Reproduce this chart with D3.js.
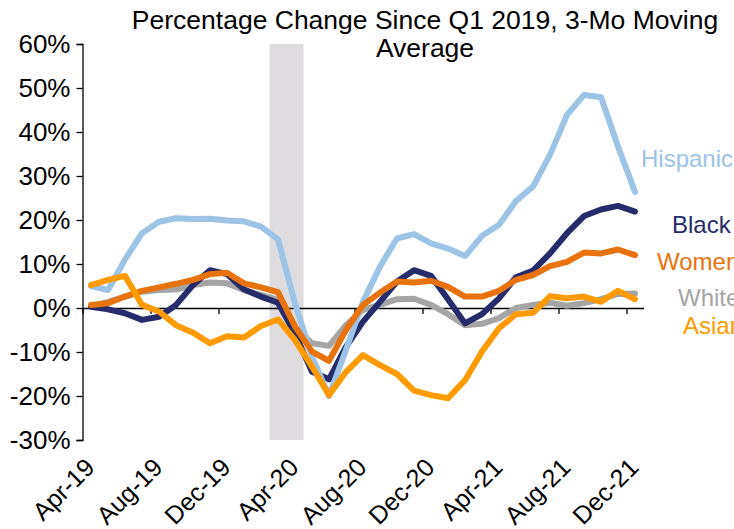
<!DOCTYPE html>
<html>
<head>
<meta charset="utf-8">
<script src="https://cdn.jsdelivr.net/npm/d3@7"></script>
<style>
  html, body { margin: 0; padding: 0; background: #ffffff; }
  svg { display: block; font-family: "Liberation Sans", Arial, sans-serif; }
</style>
</head>
<body>
<svg id="chart" width="734" height="529"></svg>
<script>
// ---------------- DATA ----------------
const months = ["Apr-19","May-19","Jun-19","Jul-19","Aug-19","Sep-19","Oct-19","Nov-19","Dec-19",
  "Jan-20","Feb-20","Mar-20","Apr-20","May-20","Jun-20","Jul-20","Aug-20","Sep-20","Oct-20",
  "Nov-20","Dec-20","Jan-21","Feb-21","Mar-21","Apr-21","May-21","Jun-21","Jul-21","Aug-21",
  "Sep-21","Oct-21","Nov-21","Dec-21"];
const tickLabels = ["Apr-19","Aug-19","Dec-19","Apr-20","Aug-20","Dec-20","Apr-21","Aug-21","Dec-21"];
const yTicks = [-0.3, -0.2, -0.1, 0, 0.1, 0.2, 0.3, 0.4, 0.5, 0.6];
const recession = ["Mar-20", "Apr-20"];
const titleLines = ["Percentage Change Since Q1 2019, 3-Mo Moving", "Average"];

// percent change, 3-mo moving average
const hispanic = [5.0, 4.1, 11.0, 17.0, 19.6, 20.4, 20.2, 20.3, 19.9, 19.7, 18.5, 15.6, 1.0, -11.0, -20.0,
  -9.5, 1.4, 9.4, 15.8, 16.8, 14.7, 13.5, 11.8, 16.4, 18.9, 24.3, 27.6, 34.8, 43.9, 48.4, 47.9, 36.7, 26.4];
const black = [0.3, -0.3, -1.2, -2.7, -2.0, 0.7, 5.2, 8.6, 7.7, 4.2, 2.6, 1.2, -5.8, -14.5, -16.2,
  -8.8, -3.1, 1.4, 6.0, 8.6, 7.3, 2.0, -3.5, -1.4, 2.2, 7.0, 8.5, 12.4, 17.0, 20.9, 22.4, 23.2, 21.9];
const women = [0.7, 1.1, 2.6, 3.9, 4.7, 5.5, 6.4, 7.7, 8.0, 5.6, 4.7, 3.6, -4.2, -9.9, -12.0,
  -5.0, 0.7, 3.5, 6.0, 5.8, 6.2, 4.8, 2.6, 2.6, 3.9, 6.4, 7.5, 9.5, 10.5, 12.6, 12.4, 13.3, 12.0];
const white = [0.3, 1.4, 2.6, 3.7, 4.1, 4.2, 5.2, 5.8, 5.6, 4.1, 3.0, 1.8, -4.5, -8.0, -8.6,
  -3.9, -0.4, 0.7, 2.0, 2.1, 0.7, -1.4, -3.9, -3.6, -2.3, 0.0, 0.7, 1.2, 0.5, 1.1, 2.0, 3.2, 3.3];
const asian = [5.2, 6.4, 7.3, 0.7, -0.8, -3.9, -5.6, -8.0, -6.4, -6.7, -4.1, -2.6, -7.3, -13.3, -19.8,
  -14.5, -10.7, -13.0, -15.0, -18.8, -19.8, -20.5, -16.4, -9.9, -4.6, -1.4, -1.1, 2.7, 2.2, 2.6, 1.4, 3.9, 2.0];

const seriesNames = ["White", "Black", "Hispanic", "Women", "Asian"];
const seriesValues = [white, black, hispanic, women, asian];
const seriesColors = ["#A5A5A5", "#262B6C", "#9DC3E6", "#E8720C", "#FF9A00"];
const labelNames = ["Hispanic", "Black", "Women", "White", "Asian"];

// ---------------- LAYOUT ----------------
const svg = d3.select("#chart");
const plot = { left: 82.5, right: 643.5, top: 44, bottom: 440 };

const x = d3.scaleBand().domain(months).range([plot.left, plot.right]).padding(0);
const xc = m => x(m) + x.bandwidth() / 2;
const y = d3.scaleLinear().domain([-0.3, 0.6]).range([plot.bottom, plot.top]);

// recession shading
svg.append("rect")
  .attr("x", x(recession[0]))
  .attr("y", plot.top)
  .attr("width", x(recession[1]) + x.bandwidth() - x(recession[0]))
  .attr("height", plot.bottom - plot.top)
  .attr("fill", "#DEDCDE");

// y axis
const yAxis = d3.axisLeft(y).tickValues(yTicks).tickSize(6).tickSizeOuter(6).tickPadding(6)
  .tickFormat(d => Math.round(d * 100) + "%");
const yg = svg.append("g").attr("transform", `translate(${plot.left},0)`).call(yAxis);
yg.select(".domain").attr("stroke", "#000").attr("stroke-width", 1.3);
yg.selectAll(".tick line").attr("stroke", "#000").attr("stroke-width", 1.3);
yg.selectAll(".tick text")
  .attr("font-size", 26).attr("fill", "#000")
  .attr("font-family", "Liberation Sans, Arial, sans-serif");

// x axis at zero
const xLin = d3.scaleLinear().domain([0, months.length]).range([plot.left, plot.right]);
const xAxis = d3.axisBottom(xLin)
  .tickValues(d3.range(0, months.length, 4))
  .tickFormat("").tickSize(6).tickSizeOuter(0);
const xg = svg.append("g").attr("transform", `translate(0,${y(0)})`).call(xAxis);
xg.select(".domain").attr("stroke", "#000").attr("stroke-width", 1.3);
xg.selectAll(".tick line").attr("stroke", "#000").attr("stroke-width", 1.3);

// rotated tick labels
svg.append("g").selectAll("text")
  .data(tickLabels).join("text")
  .attr("transform", d => `translate(${xc(d) + 5},${plot.bottom + 29}) rotate(-45)`)
  .attr("text-anchor", "end")
  .attr("font-size", 25)
  .attr("fill", "#000")
  .text(d => d);

// lines
const line = d3.line().x((d, i) => xc(months[i])).y(d => y(d / 100));
svg.append("g").selectAll("path")
  .data(seriesValues).join("path")
  .attr("d", d => line(d))
  .attr("fill", "none")
  .attr("stroke", (d, i) => seriesColors[i])
  .attr("stroke-width", 6)
  .attr("stroke-linejoin", "round")
  .attr("stroke-linecap", "round");

// series labels
const labelPos = [[641, 167], [672, 233], [657, 270], [678, 306], [683, 334]];
svg.append("g").selectAll("text")
  .data(labelNames).join("text")
  .attr("x", (d, i) => labelPos[i][0])
  .attr("y", (d, i) => labelPos[i][1])
  .attr("font-size", 24)
  .attr("fill", d => seriesColors[seriesNames.indexOf(d)])
  .text(d => d);

// title
svg.append("g").selectAll("text")
  .data(titleLines).join("text")
  .attr("x", 425)
  .attr("y", (d, i) => 29 + i * 28)
  .attr("text-anchor", "middle")
  .attr("font-size", 26.5)
  .attr("fill", "#000")
  .text(d => d);
</script>
</body>
</html>
